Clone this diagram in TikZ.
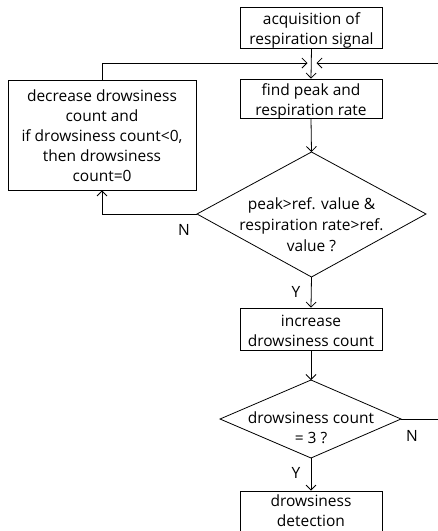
\documentclass[tikz,border=0pt]{standalone}
\usepackage{fontspec}
\setmainfont{Open Sans}
\usetikzlibrary{arrows.meta,shapes.geometric}
\begin{document}
\begin{tikzpicture}[x=1pt,y=-1pt,
  every node/.style={font=\fontsize{15.5}{20}\selectfont, align=center, inner sep=0pt},
  stepbox/.style={draw, line width=0.8pt, minimum width=142pt},
  conn/.style={line width=0.8pt, -{Straight Barb[length=5pt,width=10pt,line width=0.8pt]}},
  plain/.style={line width=0.8pt},
  lbl/.style={font=\fontsize{15.5}{20}\selectfont}]
\useasboundingbox (0,0) rectangle (438,531);
\begin{scope}
\clip (0,0) rectangle (438,531);
% boxes
\node[stepbox, minimum height=41pt] (acq) at (311.5,27.5) {};
\node (acqt) at (311.5,30) {acquisition of\\respiration signal};
\node[stepbox, minimum height=39pt] (find) at (311,98.5) {};
\node (findt) at (311,101.5) {find peak and\\respiration rate};
\node[stepbox, minimum height=42pt] (inc) at (311,329) {};
\node (inct) at (311,331) {increase\\drowsiness count};
\node[stepbox, minimum height=46pt] (det) at (311,514) {};
\node (dett) at (311,511) {drowsiness\\detection};
\node[stepbox, minimum width=188pt, minimum height=110pt] (dec) at (102,135) {};
\node (dect) at (102,136) {decrease drowsiness\\count and\\if drowsiness count<0,\\then drowsiness\\count=0};
% decisions
\draw[plain] (197,214) -- (311.5,152) -- (426,214) -- (311.5,277) -- cycle;
\coordinate (d1l) at (197,214);
\coordinate (d1t) at (311.5,152);
\coordinate (d1b) at (311.5,277);
\node[font=\fontsize{15.5}{21}\selectfont] (d1) at (311.5,225) {peak>ref. value \&\\respiration rate>ref.\\value ?};
\draw[plain] (220,419) -- (311,380) -- (401,419) -- (311,458) -- cycle;
\coordinate (d2t) at (311,380);
\coordinate (d2b) at (311,458);
\coordinate (d2r) at (401,419);
\node (d2) at (311,428) {drowsiness count\\= 3 ?};
% connectors
\coordinate (merge) at (311.5,63);
\coordinate (rin) at (438,63);
\coordinate (rout) at (438,419);
\draw[conn] (acq.south) -- (find.north);
\draw[conn] (find.south) -- (d1t);
\draw[conn] (d1b) -- (inc.north);
\draw[conn] (inc.south) -- (d2t);
\draw[conn] (d2b) -- (det.north);
\draw[conn] (d1l) -- (102,214) -- (dec.south);
\draw[conn, shorten >=4pt] (dec.north) -- (102,63) -- (merge);
\draw[conn, shorten >=5pt] (rin) -- (merge);
\draw[plain] (d2r) -- (rout);
\node[lbl] (n1) at (184,230) {N};
\node[lbl] (y1) at (296,292) {Y};
\node[lbl] (n2) at (412,436) {N};
\node[lbl] (y2) at (296,473) {Y};
\end{scope}
\end{tikzpicture}
\end{document}
